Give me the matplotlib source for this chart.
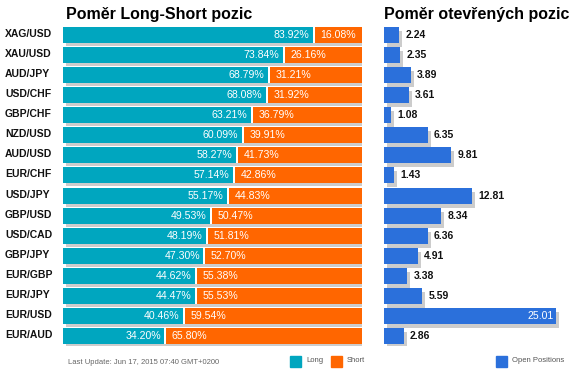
import matplotlib
matplotlib.use("Agg")
import matplotlib.pyplot as plt
from matplotlib import transforms
from matplotlib.patches import Rectangle

plt.rcParams['font.family'] = ['Liberation Sans', 'DejaVu Sans']

pairs = ['XAG/USD', 'XAU/USD', 'AUD/JPY', 'USD/CHF', 'GBP/CHF', 'NZD/USD', 'AUD/USD', 'EUR/CHF',
         'USD/JPY', 'GBP/USD', 'USD/CAD', 'GBP/JPY', 'EUR/GBP', 'EUR/JPY', 'EUR/USD', 'EUR/AUD']
long_pct = [83.92, 73.84, 68.79, 68.08, 63.21, 60.09, 58.27, 57.14,
            55.17, 49.53, 48.19, 47.30, 44.62, 44.47, 40.46, 34.20]
short_pct = [16.08, 26.16, 31.21, 31.92, 36.79, 39.91, 41.73, 42.86,
             44.83, 50.47, 51.81, 52.70, 55.38, 55.53, 59.54, 65.80]
open_pos = [2.24, 2.35, 3.89, 3.61, 1.08, 6.35, 9.81, 1.43,
            12.81, 8.34, 6.36, 4.91, 3.38, 5.59, 25.01, 2.86]

TEAL = '#00a6bf'
ORANGE = '#ff6600'
BLUE = '#2b70db'
SHADOW = '#cccccc'

W, H = 585, 388
fig = plt.figure(figsize=(W / 100, H / 100), dpi=100)


def px_box(x0, x1, ytop, ybot):
    return [x0 / W, 1 - ybot / H, (x1 - x0) / W, (ybot - ytop) / H]


n = len(pairs)
rows = list(range(n))
top_px, bot_px = 25, 346

ax1 = fig.add_axes(px_box(63, 362, top_px, bot_px))
ax2 = fig.add_axes(px_box(384, 564, top_px, bot_px))

shadow_off = transforms.ScaledTranslation(3 / 100, -3 / 100, fig.dpi_scale_trans)
gap = 0.35  # white gap between long and short segments (in % units)
bh = 0.8

# left panel: long/short ratio
ax1.barh(rows, [100] * n, height=bh, color=SHADOW, transform=ax1.transData + shadow_off, zorder=1)
ax1.barh(rows, [100] * n, height=bh, color='white', zorder=2)
ax1.barh(rows, [l - gap for l in long_pct], height=bh, color=TEAL, zorder=3)
ax1.barh(rows, [s - gap for s in short_pct], left=[l + gap for l in long_pct], height=bh,
         color=ORANGE, zorder=3)
for i in rows:
    ax1.text(long_pct[i] - 1.5, i, f'{long_pct[i]:.2f}%', ha='right', va='center',
             color='white', fontsize=7.6, zorder=4)
    ax1.text(long_pct[i] + 2.2, i, f'{short_pct[i]:.2f}%', ha='left', va='center',
             color='white', fontsize=7.6, zorder=4)
ax1.set_xlim(0, 100)
ax1.set_ylim(n - 0.5, -0.5)
ax1.axis('off')

lab_tr = transforms.blended_transform_factory(fig.transFigure, ax1.transData)
for i, p in enumerate(pairs):
    ax1.text(5 / W, i - 0.05, p, transform=lab_tr, ha='left', va='center',
             fontsize=7.5, fontweight='bold', color='#111111')

# right panel: open positions
xmax = max(open_pos) * 180 / 172
shadow_off2 = transforms.ScaledTranslation(3 / 100, -4 / 100, fig.dpi_scale_trans)
ax2.barh(rows, open_pos, height=bh, color=SHADOW, transform=ax2.transData + shadow_off2, zorder=1)
ax2.barh(rows, open_pos, height=bh, color=BLUE, zorder=2)
for i, v in enumerate(open_pos):
    if v > xmax * 0.8:
        ax2.text(v - 0.3, i, f'{v:.2f}', ha='right', va='center', color='white',
                 fontsize=7.6, zorder=3)
    else:
        ax2.text(v + 0.9, i, f'{v:.2f}', ha='left', va='center', color='#111111',
                 fontsize=7.5, fontweight='bold', zorder=3)
ax2.set_xlim(0, xmax)
ax2.set_ylim(n - 0.5, -0.5)
ax2.axis('off')

# titles
fig.text(159.5 / W, 1 - 14 / H, 'Poměr Long-Short pozic', ha='center', va='center',
         fontsize=11.5, fontweight='bold')
fig.text(476.5 / W, 1 - 14 / H, 'Poměr otevřených pozic', ha='center', va='center',
         fontsize=11.5, fontweight='bold')

# footer
fig.text(68 / W, 1 - 362 / H, 'Last Update: Jun 17, 2015 07:40 GMT+0200', ha='left',
         va='center', fontsize=5.5, color='#666666')

legend_items = [(290, TEAL, 'Long'), (331, ORANGE, 'Short'), (496, BLUE, 'Open Positions')]
for x0, col, txt in legend_items:
    fig.add_artist(Rectangle((x0 / W, 1 - 367 / H), 11 / W, 11 / H, color=col,
                             transform=fig.transFigure))
    fig.text((x0 + 16) / W, 1 - 361 / H, txt, ha='left', va='center', fontsize=5.5,
             color='#555555')

fig.savefig('out.png', dpi=100, facecolor='white')
